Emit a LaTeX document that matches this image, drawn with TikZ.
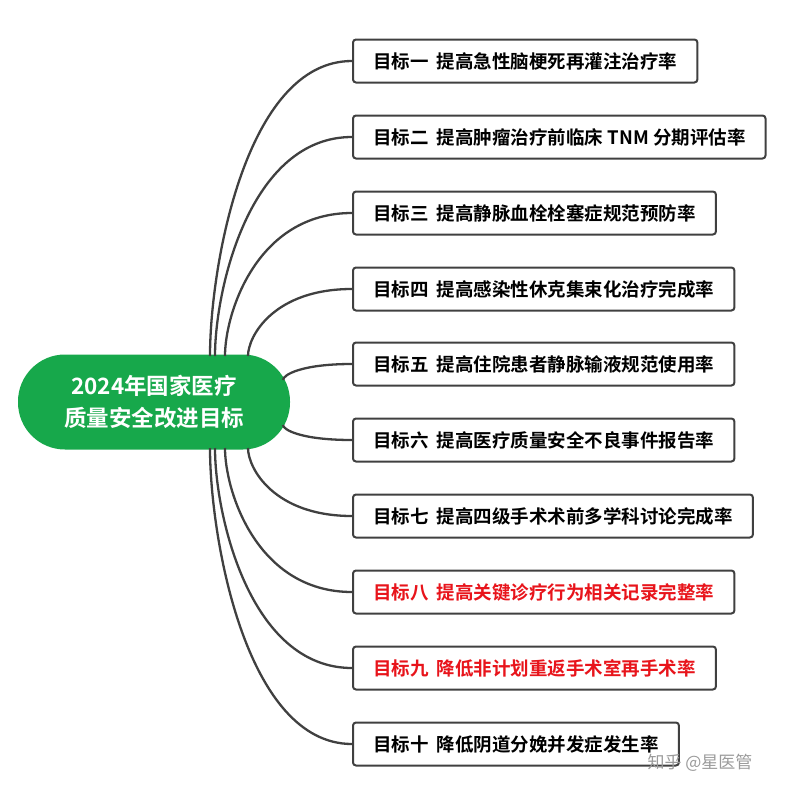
\documentclass[tikz,border=0pt]{standalone}
\usepackage{fontspec}
\setmainfont{Noto Sans CJK SC}[BoldFont={Noto Sans CJK SC Bold}]
\usetikzlibrary{calc,positioning}
\definecolor{color_green}{HTML}{17a84b}
\definecolor{color_line}{HTML}{404040}
\definecolor{color_red}{HTML}{e8141b}
\definecolor{color_mark}{HTML}{9a9a9a}
\tikzset{
  goal/.style={draw=color_line,line width=2pt,rounded corners=3pt,fill=white,
    anchor=west,minimum height=43pt,inner xsep=20pt,
    font=\fontsize{18.5}{21}\selectfont\bfseries},
  link/.style={draw=color_line,line width=2.3pt},
}
\begin{document}
\begin{tikzpicture}[x=1pt,y=-1pt]
	\useasboundingbox (0,0) rectangle (793,795);
	% Centre
	\node[fill=color_green,rounded corners=47pt,minimum width=272pt,minimum height=95pt,
		text=white,align=center,font=\fontsize{22.5}{32}\selectfont\bfseries]
		(root) at (154,402) {2024年国家医疗\\质量安全改进目标};

	% Start points on the centre
	\coordinate (s1) at (210,356);
	\coordinate (s2) at (215,356);
	\coordinate (s3) at (225,356);
	\coordinate (s4) at (248,356);
	\coordinate (s5) at (283,380);
	\coordinate (s6) at (283,425);
	\coordinate (s7) at (248,448);
	\coordinate (s8) at (225,448);
	\coordinate (s9) at (215,448);
	\coordinate (s10) at (210,448);

	% Goals
	\node[goal] (g1) at (352,61) {目标一\ \ 提高急性脑梗死再灌注治疗率};
	\node[goal] (g2) at (352,137) {目标二\ \ 提高肿瘤治疗前临床 TNM 分期评估率};
	\node[goal] (g3) at (352,213) {目标三\ \ 提高静脉血栓栓塞症规范预防率};
	\node[goal] (g4) at (352,289) {目标四\ \ 提高感染性休克集束化治疗完成率};
	\node[goal] (g5) at (352,364) {目标五\ \ 提高住院患者静脉输液规范使用率};
	\node[goal] (g6) at (352,440) {目标六\ \ 提高医疗质量安全不良事件报告率};
	\node[goal] (g7) at (352,516) {目标七\ \ 提高四级手术术前多学科讨论完成率};
	\node[goal,text=color_red] (g8) at (352,592) {目标八\ \ 提高关键诊疗行为相关记录完整率};
	\node[goal,text=color_red] (g9) at (352,668) {目标九\ \ 降低非计划重返手术室再手术率};
	\node[goal] (g10) at (352,744) {目标十\ \ 降低阴道分娩并发症发生率};

	% Links
	\foreach \i in {1,...,10}{
		\draw[link] (s\i) .. controls ($(s\i)!0.3!(s\i|-g\i.west)$) and ($(s\i|-g\i.west)!0.25!(g\i.west)$) .. (g\i.west);
	}

	% Mark
	\node[text=color_mark,font=\fontsize{17}{19}\selectfont] (mark) at (700,763) {知乎 @星医管};
\end{tikzpicture}
\end{document}
